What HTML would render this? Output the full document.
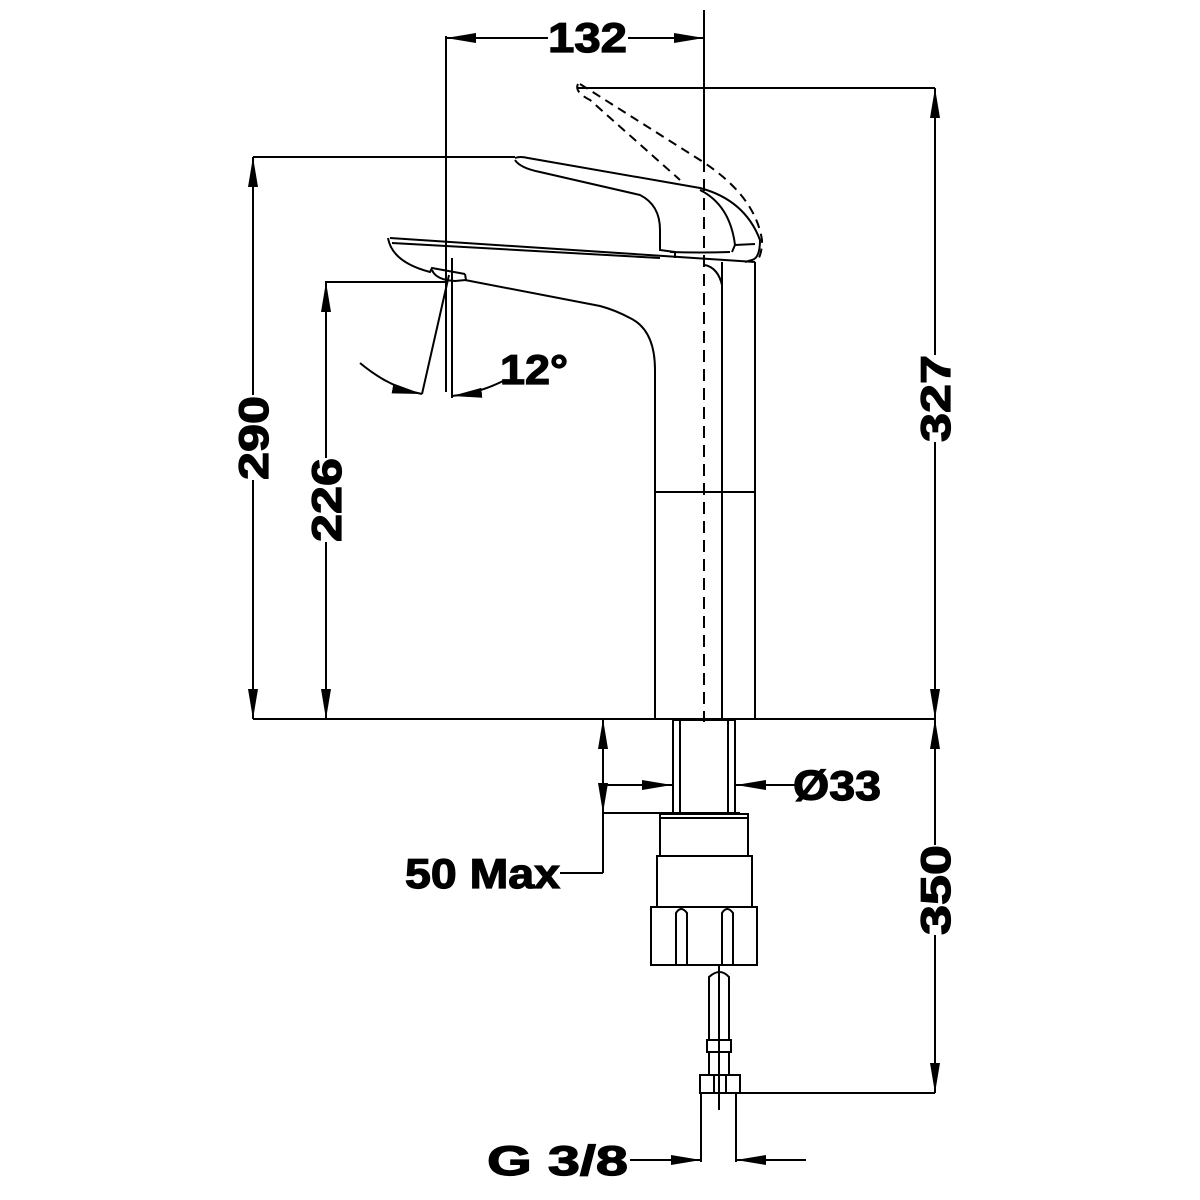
<!DOCTYPE html>
<html><head><meta charset="utf-8"><style>html,body{margin:0;padding:0;background:#fff}svg{display:block}</style></head>
<body>
<svg width="1200" height="1200" viewBox="0 0 1200 1200" xmlns="http://www.w3.org/2000/svg">
<defs>
<marker id="a" viewBox="0 0 30 10" refX="30" refY="5" markerWidth="30" markerHeight="11" markerUnits="userSpaceOnUse" orient="auto-start-reverse">
<path d="M0,0 L30,5 L0,10 z" fill="#000"/></marker>
</defs>
<g fill="none" stroke="#000" stroke-width="2">
<line x1="253" y1="719" x2="935" y2="719"/>
<line x1="446" y1="36" x2="446" y2="392"/>
<line x1="704" y1="10" x2="704" y2="160"/>
<line x1="704" y1="160" x2="704" y2="722" stroke-dasharray="12,7"/>
<line x1="446" y1="38" x2="548" y2="38" marker-start="url(#a)"/>
<line x1="628" y1="38" x2="704" y2="38" marker-end="url(#a)"/>
<line x1="578" y1="88" x2="935" y2="88"/>
<line x1="935" y1="88" x2="935" y2="355" marker-start="url(#a)"/>
<line x1="935" y1="442" x2="935" y2="719" marker-end="url(#a)"/>
<line x1="935" y1="719" x2="935" y2="845" marker-start="url(#a)"/>
<line x1="935" y1="935" x2="935" y2="1093" marker-end="url(#a)"/>
<line x1="738" y1="1093" x2="935" y2="1093"/>
<line x1="253" y1="157" x2="515" y2="157"/>
<line x1="253" y1="157" x2="253" y2="395" marker-start="url(#a)"/>
<line x1="253" y1="480" x2="253" y2="719" marker-end="url(#a)"/>
<line x1="325" y1="282" x2="445" y2="282"/>
<line x1="326" y1="282" x2="326" y2="458" marker-start="url(#a)"/>
<line x1="326" y1="542" x2="326" y2="719" marker-end="url(#a)"/>
<line x1="452" y1="258" x2="452" y2="398"/>
<line x1="449" y1="275" x2="422" y2="394"/>
<path d="M360,363 Q390,388 422,394" marker-end="url(#a)"/>
<path d="M505,380 Q480,393 452,396" marker-end="url(#a)"/>
<path d="M655,719 L655,370 Q655,330 630,318 Q615,310 600,306 L465,280"/>
<line x1="755" y1="262" x2="755" y2="719"/>
<path d="M722,262 Q722,275 722,290 L722,719"/>
<path d="M705,265 Q718,268 722,285"/>
<line x1="655" y1="492" x2="755" y2="492"/>
<path d="M390,238 L755,262 M388,238 Q392,262 430,272 L432,268 L465,274"/>
<path d="M392,243 L660,258"/>
<path d="M432,270 Q436,280 455,281 L466,280 L465,274"/>
<path d="M515,158 Q520,156 528,158 L700,188 Q745,200 760,240 Q760,258 752,260 L745,262"/>
<path d="M515,160 Q520,168 540,172 L640,195 Q660,205 660,230 L660,250 L675,252 L675,258"/>
<path d="M670,252 Q700,253 730,252"/>
<path d="M700,190 Q730,205 735,245 L732,252"/>
<path d="M735,245 L755,244"/>
<path d="M578,84 Q574,92 590,100 L680,180" stroke-dasharray="9,6"/>
<path d="M580,84 L700,160 Q755,195 762,240 Q762,258 755,262" stroke-dasharray="9,6"/>
<rect x="673" y="720" width="62" height="93"/>
<line x1="680" y1="720" x2="680" y2="813"/>
<line x1="728" y1="720" x2="728" y2="813"/>
<line x1="603" y1="719" x2="603" y2="813" marker-start="url(#a)" marker-end="url(#a)"/>
<line x1="603" y1="813" x2="740" y2="813"/>
<line x1="603" y1="813" x2="603" y2="873"/>
<line x1="560" y1="873" x2="603" y2="873"/>
<line x1="603" y1="785" x2="672" y2="785" marker-end="url(#a)"/>
<line x1="795" y1="785" x2="736" y2="785" marker-end="url(#a)"/>
<rect x="660" y="814" width="88" height="42"/>
<line x1="661" y1="818" x2="747" y2="818"/>
<rect x="657" y="856" width="95" height="51"/>
<rect x="651" y="907" width="106" height="58"/>
<path d="M676,965 L676,913 Q681,905 687,913 L687,965"/>
<path d="M722,965 L722,913 Q727,905 733,913 L733,965"/>
<line x1="719" y1="965" x2="719" y2="1110"/>
<path d="M709,1040 L709,977 Q720,967 729,977 L729,1040"/>
<rect x="707" y="1040" width="24" height="12"/>
<rect x="709" y="1052" width="20" height="23"/>
<rect x="700" y="1075" width="40" height="18"/>
<line x1="714" y1="1075" x2="714" y2="1093"/><line x1="726" y1="1075" x2="726" y2="1093"/>
<line x1="701" y1="1093" x2="701" y2="1162"/>
<line x1="736" y1="1093" x2="736" y2="1162"/>
<line x1="630" y1="1160" x2="701" y2="1160" marker-end="url(#a)"/>
<line x1="806" y1="1160" x2="736" y2="1160" marker-end="url(#a)"/>
</g>
<g font-family="Liberation Sans, sans-serif" font-weight="bold" font-size="42" fill="#000" stroke="#000" stroke-width="1.2">
<text x="548" y="52" textLength="79" lengthAdjust="spacingAndGlyphs">132</text>
<text x="500" y="384" textLength="68" lengthAdjust="spacingAndGlyphs">12°</text>
<text transform="translate(268,480) rotate(-90)" textLength="84" lengthAdjust="spacingAndGlyphs">290</text>
<text transform="translate(341,542) rotate(-90)" textLength="84" lengthAdjust="spacingAndGlyphs">226</text>
<text transform="translate(950,442) rotate(-90)" textLength="87" lengthAdjust="spacingAndGlyphs">327</text>
<text transform="translate(950,935) rotate(-90)" textLength="90" lengthAdjust="spacingAndGlyphs">350</text>
<text x="793" y="800" textLength="88" lengthAdjust="spacingAndGlyphs">Ø33</text>
<text x="405" y="888" textLength="155" lengthAdjust="spacingAndGlyphs">50 Max</text>
<text x="487" y="1175" textLength="141" lengthAdjust="spacingAndGlyphs">G 3/8</text>
</g>
</svg>
</body></html>
